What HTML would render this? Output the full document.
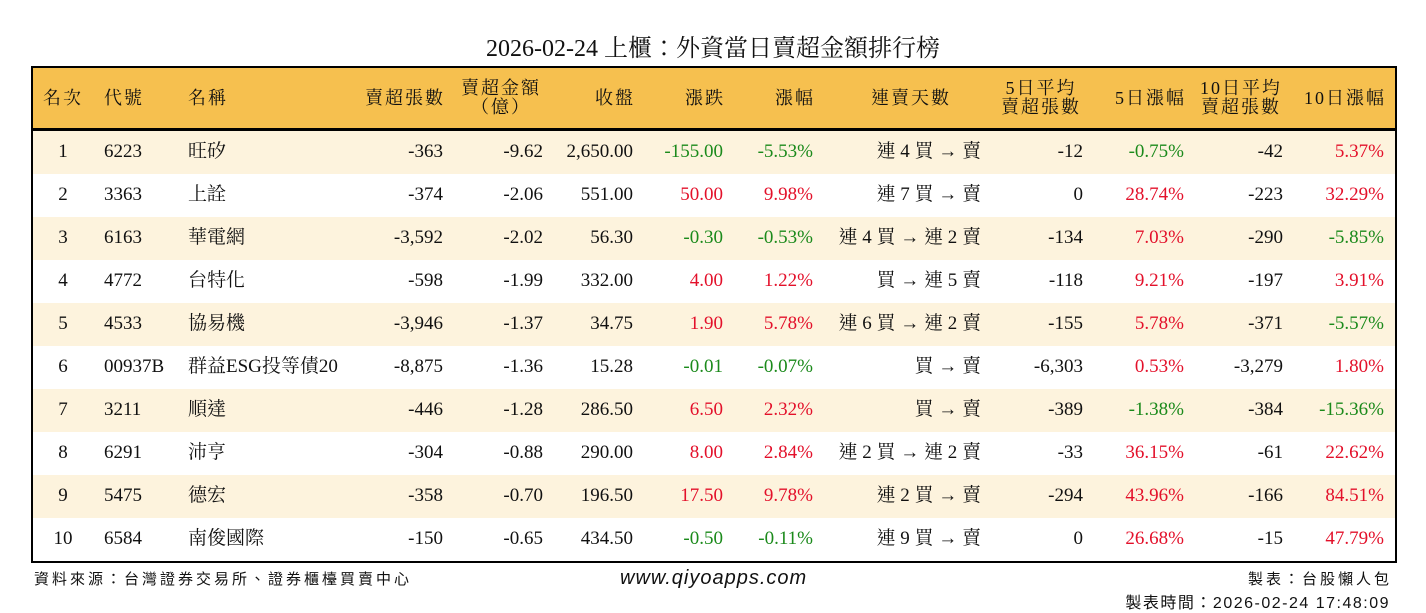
<!DOCTYPE html>
<html><head><meta charset="utf-8">
<style>
body{margin:0;width:1426px;height:612px;background:#fff;position:relative;overflow:hidden;font-family:"Liberation Serif","Noto Serif CJK TC","Noto Serif CJK SC",serif;color:#111}
.t{position:absolute;white-space:nowrap}
#title{left:0;width:1426px;top:28px;text-align:center;font-size:24px}
#box{position:absolute;left:31px;top:66px;width:1362px;height:493px;border:2px solid #000}
#hdr{position:absolute;left:0;top:0;width:1362px;height:60px;background:#f6c04f;border-bottom:3px solid #000}
.row{position:absolute;left:0;width:1362px;height:43px}
.c{position:absolute;font-size:19px;white-space:nowrap;line-height:22px}
.h{position:absolute;font-size:18px;line-height:19px;white-space:nowrap;text-align:center;letter-spacing:2px}
.g{color:#1b8a1b}.r{color:#e3102a}
.foot{position:absolute;font-family:"Liberation Sans","Noto Sans CJK TC",sans-serif;font-size:15px;white-space:nowrap;letter-spacing:3px}
</style></head><body>
<div class="t" id="title">2026-02-24 上櫃：外資當日賣超金額排行榜</div>
<div id="box">
<div id="hdr"></div>
</div>
<div class="foot" style="left:34px;top:568px">資料來源：台灣證券交易所、證券櫃檯買賣中心</div>
<div class="foot" style="left:620px;top:567px;font-style:italic;font-size:20px;letter-spacing:1px">www.qiyoapps.com</div>
<div class="foot" style="right:34px;top:568px">製表：台股懶人包</div>
<div class="foot" style="right:36px;top:589px;font-size:16px;letter-spacing:1.5px">製表時間：2026-02-24 17:48:09</div>
<script>
const ranks=[1,2,3,4,5,6,7,8,9,10];
const codes=["6223","3363","6163","4772","4533","00937B","3211","6291","5475","6584"];
const names=["旺矽","上詮","華電網","台特化","協易機","群益ESG投等債20","順達","沛亨","德宏","南俊國際"];
const sellVol=["-363","-374","-3,592","-598","-3,946","-8,875","-446","-304","-358","-150"];
const sellAmt=["-9.62","-2.06","-2.02","-1.99","-1.37","-1.36","-1.28","-0.88","-0.70","-0.65"];
const closes=["2,650.00","551.00","56.30","332.00","34.75","15.28","286.50","290.00","196.50","434.50"];
const changes=["-155.00","50.00","-0.30","4.00","1.90","-0.01","6.50","8.00","17.50","-0.50"];
const pcts=["-5.53%","9.98%","-0.53%","1.22%","5.78%","-0.07%","2.32%","2.84%","9.78%","-0.11%"];
const streaks=["連 4 買 → 賣","連 7 買 → 賣","連 4 買 → 連 2 賣","買 → 連 5 賣","連 6 買 → 連 2 賣","買 → 賣","買 → 賣","連 2 買 → 連 2 賣","連 2 買 → 賣","連 9 買 → 賣"];
const avg5=["-12","0","-134","-118","-155","-6,303","-389","-33","-294","0"];
const pct5=["-0.75%","28.74%","7.03%","9.21%","5.78%","0.53%","-1.38%","36.15%","43.96%","26.68%"];
const avg10=["-42","-223","-290","-197","-371","-3,279","-384","-61","-166","-15"];
const pct10=["5.37%","32.29%","-5.85%","3.91%","-5.57%","1.80%","-15.36%","22.62%","84.51%","47.79%"];
const headers=[["名次",""],["代號",""],["名稱",""],["賣超張數",""],["賣超金額","（億）"],["收盤",""],["漲跌",""],["漲幅",""],["連賣天數",""],["5日平均","賣超張數"],["5日漲幅",""],["10日平均","賣超張數"],["10日漲幅",""]];
const box=document.getElementById('box');
const cols=[['c',30],['l',71],['l',155],['r',410],['r',510],['r',600],['r',690],['r',780],['r',948],['r',1050],['r',1151],['r',1250],['r',1351]];
function place(el,t,x,w){
  if(t==='l'){el.style.left=x+'px';}
  else if(t==='r'){el.style.right=(1362-x)+'px';el.style.textAlign='right';}
  else {el.style.left=(x-w/2)+'px';el.style.width=w+'px';el.style.textAlign='center';}
}
const hdr=document.getElementById('hdr');
headers.forEach((h,i)=>{
  const d=document.createElement('div');d.className='h';
  
  
  d.innerHTML=h[1]?h[0]+'<br>'+h[1]:h[0];
  d.style.top=(h[1]?11:21)+'px';
  const [t,x]=cols[i];
  if(i===8){d.style.left='838px';d.style.width='80px';}
  else if(h[1]&&t==='r'){d.style.left=(x-84)+'px';d.style.width='84px';d.style.textAlign='center';}
  else if(t==='r'){d.style.right=(1362-x-2)+'px';d.style.textAlign='right';}
  else place(d,t,x,60);
  hdr.appendChild(d);
});
function col(v){return v.startsWith('-')?'g':'r';}
ranks.forEach((rk,i)=>{
  const row=document.createElement('div');row.className='row';
  
  
  row.style.top=(63+i*43)+'px';
  row.style.background=i%2===0?'#fdf3dd':'#fff';
  const vals=[String(rk),codes[i],names[i],sellVol[i],sellAmt[i],closes[i],changes[i],pcts[i],streaks[i],avg5[i],pct5[i],avg10[i],pct10[i]];
  const cls=['','','','','','',col(changes[i]),col(pcts[i]),'','',col(pct5[i]),'',col(pct10[i])];
  vals.forEach((v,j)=>{
    const c=document.createElement('div');c.className='c '+cls[j];
    
    
    c.textContent=v;c.style.top='10px';
    place(c,cols[j][0],cols[j][1],40);
    row.appendChild(c);
  });
  box.appendChild(row);
});
</script>
</body></html>
